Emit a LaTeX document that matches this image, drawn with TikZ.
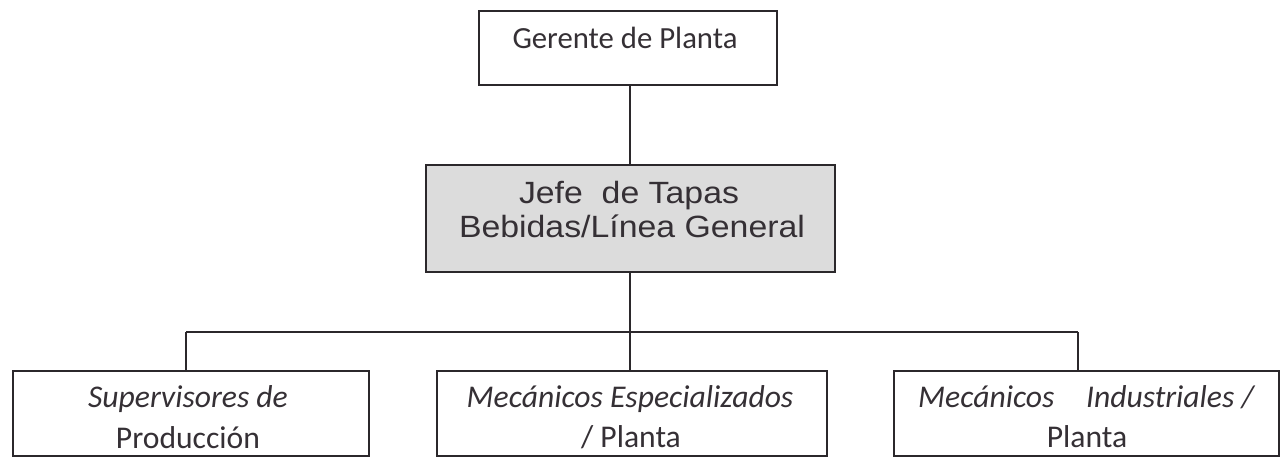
\documentclass[tikz,border=0pt]{standalone}
\usepackage{fontspec}
\setmainfont{Carlito}
\newfontfamily\arialfont[FakeStretch=1.1]{Liberation Sans}
\definecolor{ink}{HTML}{2B282B}
\definecolor{txt}{HTML}{353035}
\definecolor{boxgray}{HTML}{DCDCDC}
\tikzset{
  orgbox/.style={draw=ink, line width=1.1pt, rectangle, inner sep=0pt, anchor=north west},
  wire/.style={draw=ink, line width=1.1pt},
  boxtxt/.style={text=txt, inner sep=0pt, anchor=base, font=\fontsize{17.5}{20}\selectfont},
  leaftxt/.style={boxtxt, font=\fontsize{18}{20}\selectfont},
  midtxt/.style={text=txt, inner sep=0pt, anchor=base, font=\arialfont\fontsize{17.5}{20}\selectfont},
}
\begin{document}
\begin{tikzpicture}[x=0.02cm, y=-0.02cm]
\useasboundingbox (0,0) rectangle (1285,457);
\fill[white] (0,0) rectangle (1285,457);
\clip (0,0) rectangle (1285,457);
% top
\node[orgbox, minimum width=298*0.02cm, minimum height=74*0.02cm] (top) at (478,10) {};
\node[boxtxt] (ttop) at (625,48) {Gerente de Planta};
% middle
\node[orgbox, fill=boxgray, minimum width=409*0.02cm, minimum height=107*0.02cm] (mid) at (425,164) {};
\node[midtxt] (tmid1) at (629,203) {Jefe\ \ de Tapas};
\node[midtxt] (tmid2) at (632,237) {Bebidas/Línea General};
% bottom boxes
\node[orgbox, minimum width=356*0.02cm, minimum height=85*0.02cm] (b1) at (12,370) {};
\node[orgbox, minimum width=390*0.02cm, minimum height=85*0.02cm] (b2) at (436,370) {};
\node[orgbox, minimum width=385*0.02cm, minimum height=85*0.02cm] (b3) at (893,370) {};
\node[leaftxt] (t1a) at (188,407) {\itshape Supervisores de};
\node[leaftxt] (t1b) at (188,448) {Producción};
\node[leaftxt] (t2a) at (630,407) {\itshape Mecánicos Especializados};
\node[leaftxt] (t2b) at (631,447) {/ Planta};
\node[leaftxt] (t3a) at (1086,407) {\itshape Mecánicos\hspace{1em}Industriales /};
\node[leaftxt] (t3b) at (1087,447) {Planta};
% connectors
\coordinate (bus) at (630,332);
\coordinate (busL) at (186,332);
\coordinate (busR) at (1078,332);
\draw[wire] (top.south -| bus) -- (mid.north -| bus);
\draw[wire] (mid.south -| bus) -- (bus);
\draw[wire] (busL) -- (busR);
\draw[wire] (busL) -- (busL |- b1.north);
\draw[wire] (bus) -- (bus |- b2.north);
\draw[wire] (busR) -- (busR |- b3.north);
\end{tikzpicture}
\end{document}
